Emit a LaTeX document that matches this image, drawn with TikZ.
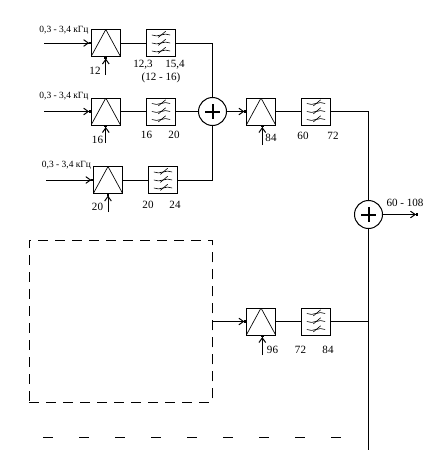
\documentclass[tikz,border=0pt]{standalone}
\usepackage{fontspec}
\setmainfont{Liberation Serif}
\usetikzlibrary{arrows.meta}
\tikzset{
  line/.style={line width=0.75pt},
  feed/.style={line, -{Straight Barb[length=3.5pt,width=5pt]Square[length=1.5pt,width=2pt]}},
  ampbox/.style={draw, line width=0.75pt, minimum width=22pt, minimum height=20.25pt, inner sep=0pt, outer sep=0pt,
    path picture={\draw[line width=0.5pt] (path picture bounding box.south west) -- (path picture bounding box.north) -- (path picture bounding box.south east);}},
  filterbox/.style={draw, line width=0.75pt, minimum width=22pt, minimum height=20.25pt, inner sep=0pt, outer sep=0pt,
    path picture={
      \foreach \yy in {-6,0,6} {
        \draw[line width=0.45pt] ([xshift=-6.8pt,yshift=\yy pt]path picture bounding box.center) to[bend right=20] ([yshift=\yy pt]path picture bounding box.center) to[bend left=20] ([xshift=6.8pt,yshift=\yy pt]path picture bounding box.center);
        \draw[line width=0.45pt] ([xshift=-2pt,yshift=\yy pt-1.8pt]path picture bounding box.center) -- ([xshift=3.5pt,yshift=\yy pt+2.8pt]path picture bounding box.center);
      }}},
  adder/.style={draw, circle, line width=0.75pt, minimum size=21pt, inner sep=0pt, outer sep=0pt,
    path picture={\draw[line width=1.5pt] ([xshift=-5.5pt]path picture bounding box.center) -- ([xshift=5.5pt]path picture bounding box.center) ([yshift=-5.5pt]path picture bounding box.center) -- ([yshift=5.5pt]path picture bounding box.center);}},
  numlabel/.style={inner sep=0pt, font=\fontsize{8.3pt}{9pt}\selectfont},
  bandlabel/.style={inner sep=0pt, font=\fontsize{7.1pt}{8pt}\selectfont}
}
\begin{document}
\begin{tikzpicture}[x=0.75pt,y=-0.75pt]
\useasboundingbox (0,0) rectangle (446,471);

% Group of channels
\node [ampbox] (amp1) at (105.8,43) {};
\node [filterbox] (flt1) at (161,43) {};
\node [ampbox] (amp2) at (105.8,111.5) {};
\node [filterbox] (flt2) at (161,111.5) {};
\node [ampbox] (amp3) at (108,180) {};
\node [filterbox] (flt3) at (163,180) {};
\node [adder] (sum1) at (212.5,111.5) {};

\coordinate (in1) at (44,43);
\coordinate (in2) at (44,111.5);
\coordinate (in3) at (46,180);
\coordinate (ref1) at (105.8,75);
\coordinate (ref2) at (105.8,143);
\coordinate (ref3) at (108,212);

\foreach \n in {1,2,3} {
  \draw [feed] (in\n) -- (amp\n.west);
  \draw [feed] (ref\n) -- (amp\n.south);
  \draw [line] (amp\n.east) -- (flt\n.west);
}
\draw [line] (flt1.east) -| (sum1.north);
\draw [line] (flt2.east) -- (sum1.west);
\draw [line] (flt3.east) -| (sum1.south);

\node [bandlabel] (band1) at (64,30) {0,3 - 3,4 кГц};
\node [bandlabel] (band2) at (64,96) {0,3 - 3,4 кГц};
\node [bandlabel] (band3) at (66.5,165) {0,3 - 3,4 кГц};
\node [numlabel] (car1) at (95,71) {12};
\node [numlabel] (car2) at (97.5,140) {16};
\node [numlabel] (car3) at (97.5,207) {20};
\node [numlabel] (low1) at (143,65) {12,3};
\node [numlabel] (high1) at (175,65) {15,4};
\node [numlabel] (range1) at (161,78) {(12 - 16)};
\node [numlabel] (low2) at (146.5,135) {16};
\node [numlabel] (high2) at (174,135) {20};
\node [numlabel] (low3) at (148,205) {20};
\node [numlabel] (high3) at (175,205) {24};

% Upper supergroup branch
\node [ampbox] (amp4) at (261,111.5) {};
\node [filterbox] (flt4) at (316,111.5) {};
\node [adder] (sum2) at (368.5,214.5) {};
\coordinate (ref4) at (262.3,145);
\coordinate (out) at (418,214.5);
\coordinate (bus) at (368.5,450);

\draw [feed] (sum1.east) -- (amp4.west);
\draw [feed] (ref4) -- (amp4.south -| ref4);
\draw [line] (amp4.east) -- (flt4.west);
\draw [line] (flt4.east) -| (sum2.north);
\draw [line] (sum2.south) -- (bus);
\draw [feed] (sum2.east) -- (out);

\node [numlabel] (car4) at (271,138) {84};
\node [numlabel] (low4) at (303,136) {60};
\node [numlabel] (high4) at (333,136) {72};
\node [numlabel] (total) at (405,203) {60 - 108};

% Lower supergroup branch
\node [draw, line width=0.75pt, dash pattern=on 7.5pt off 5.25pt, minimum width=137.5pt, minimum height=121.5pt, inner sep=0pt, outer sep=0pt] (group2) at (120.75,321) {};
\node [ampbox] (amp5) at (261,321.5) {};
\node [filterbox] (flt5) at (316,321.5) {};
\coordinate (ref5) at (262.3,355);

\draw [feed] (amp5.west -| group2.east) -- (amp5.west);
\draw [feed] (ref5) -- (amp5.south -| ref5);
\draw [line] (amp5.east) -- (flt5.west);
\draw [line] (flt5.east) -- (flt5.east -| bus);

\node [numlabel] (car5) at (272.5,350) {96};
\node [numlabel] (low5) at (300.5,350) {72};
\node [numlabel] (high5) at (328,350) {84};

% Further groups
\coordinate (restl) at (43,437);
\coordinate (restr) at (341,437);
\draw [line, dash pattern=on 7.5pt off 19.5pt] (restl) -- (restr);
\end{tikzpicture}
\end{document}
